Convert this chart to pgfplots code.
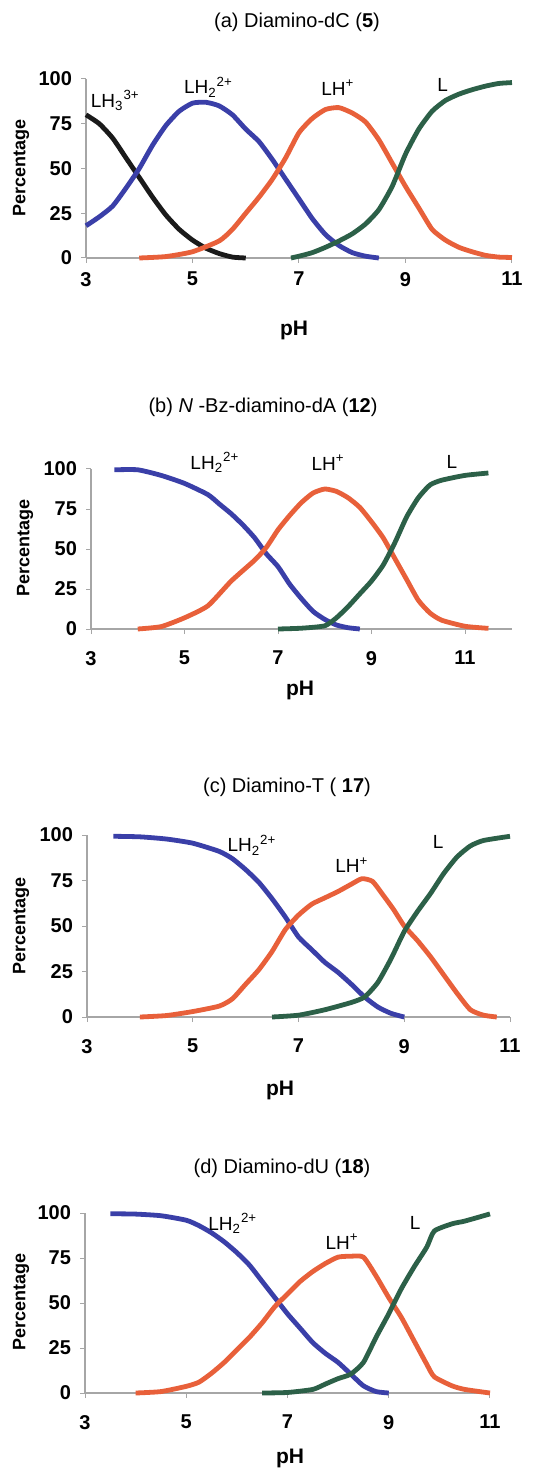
\documentclass[border=0pt]{standalone}
\usepackage{fontspec}
\setmainfont{Liberation Sans}
\usepackage{pgfplots}
\pgfplotsset{compat=1.18}
\definecolor{cblack}{HTML}{1A1A1A}
\definecolor{cblue}{HTML}{3A3FA8}
\definecolor{corange}{HTML}{E8603A}
\definecolor{cgreen}{HTML}{2C6048}

\pgfplotsset{
  specplot/.style={
    scale only axis,
    anchor=south west,
    axis lines*=left,
    axis line style={gray!70, line width=0.6pt},
    ymin=0, ymax=100,
    ytick={0,25,50,75,100},
    xtick={3,5,7,9,11},
    tick align=outside,
    major tick length=2.5pt,
    tick style={gray!70, line width=0.5pt},
    /pgf/number format/assume math mode=true,
    ticklabel style={font=\bfseries\fontsize{10}{12}\selectfont},
    yticklabel style={xshift=-1pt},
    clip=false,
    every axis plot/.append style={line width=2.4pt, line join=round, smooth, tension=0.35},
  },
}
\tikzset{
  lab/.style={font=\fontsize{9.5}{11}\selectfont, anchor=center},
  ttl/.style={font=\fontsize{10}{12}\selectfont},
  ylab/.style={rotate=90, font=\bfseries\fontsize{9}{11}\selectfont},
  xlab/.style={font=\bfseries\fontsize{10.5}{12}\selectfont},
}

\begin{document}
\begin{tikzpicture}
\path[use as bounding box] (0,0) rectangle (278.5pt,-735pt);

% ---- (a) Diamino-dC (5)
\node[ttl] at (148.5pt,-11pt) {(a) Diamino-dC (\textbf{5})};
\begin{axis}[specplot, at={(43pt,-129pt)}, width=213pt, height=89.5pt,
  xmin=3, xmax=11, xticklabel style={yshift=-1pt}]
\addplot[cblack] coordinates {(3,80) (3.25,75) (3.5,67) (3.75,56) (4,45) (4.25,34) (4.5,24) (4.75,16) (5,10) (5.25,5.5) (5.5,2.5) (5.75,0.5) (6,0)};
\addplot[cblue] coordinates {(3,18) (3.25,23) (3.5,29) (3.75,39) (4,50) (4.25,63) (4.5,74) (4.75,82) (5,86.5) (5.25,87) (5.5,85) (5.75,80) (6,72) (6.25,65) (6.5,55) (6.75,44) (7,33) (7.25,22) (7.5,13) (7.75,7) (8,3) (8.25,1) (8.5,0)};
\addplot[corange] coordinates {(4,0) (4.5,0.8) (5,3.5) (5.5,9.5) (5.75,16) (6,25) (6.25,34) (6.5,44) (6.75,56) (7,70) (7.25,78) (7.5,83) (7.75,84) (8,81) (8.25,76) (8.5,66) (8.75,53) (9,40) (9.25,28) (9.5,16) (9.75,10) (10,6) (10.25,3.5) (10.5,1.5) (10.75,0.5) (11,0.3)};
\addplot[cgreen] coordinates {(6.85,0) (7,1) (7.25,3) (7.5,6) (7.75,9.5) (8,13.5) (8.25,19) (8.5,27) (8.75,40) (9,58) (9.25,72) (9.5,82) (9.75,88) (10,91.5) (10.25,94) (10.5,96) (10.75,97.5) (11,98)};
\node[lab] at (axis cs:3.55,88) {LH\textsubscript{3}\textsuperscript{3+}};
\node[lab] at (axis cs:5.3,95.5) {LH\textsubscript{2}\textsuperscript{2+}};
\node[lab] at (axis cs:7.73,95) {LH\textsuperscript{+}};
\node[lab] at (axis cs:9.7,96.6) {L};
\end{axis}
\node[ylab] at (10.5pt,-84pt) {Percentage};
\node[xlab] at (147pt,-165pt) {pH};

% ---- (b) N-Bz-diamino-dA (12)
\node[ttl] at (131.5pt,-203.5pt) {(b) \textit{N} -Bz-diamino-dA (\textbf{12})};
\begin{axis}[specplot, at={(45.5pt,-314.5pt)}, width=210.4pt, height=80pt,
  xmin=3, xmax=12, xticklabel style={yshift=-5pt}]
\addplot[cblue] coordinates {(3.5,99.5) (4,99.5) (4.5,96) (5,91) (5.5,84) (5.75,78) (6,72) (6.25,65) (6.5,57) (6.75,47) (7,39) (7.25,28) (7.5,19) (7.75,11) (8,6) (8.25,2.5) (8.5,0.8) (8.75,0)};
\addplot[corange] coordinates {(4,0) (4.5,1.5) (5,7) (5.5,14.5) (6,30) (6.5,43) (6.75,51) (7,62) (7.25,71) (7.5,79) (7.75,85) (8,87.5) (8.25,86) (8.5,82) (8.75,76) (9,67) (9.25,57) (9.5,44) (9.75,31) (10,18) (10.25,10) (10.5,5.5) (11,1.7) (11.5,0.4)};
\addplot[cgreen] coordinates {(7,0) (7.5,0.5) (8,2) (8.25,7) (8.5,14) (8.75,22) (9,30) (9.25,40) (9.5,54) (9.75,70) (10,82) (10.25,90) (10.5,93) (11,96) (11.5,97.5)};
\node[lab] at (axis cs:5.65,104) {LH\textsubscript{2}\textsuperscript{2+}};
\node[lab] at (axis cs:8.07,104) {LH\textsuperscript{+}};
\node[lab] at (axis cs:10.72,104.4) {L};
\end{axis}
\node[ylab] at (12.5pt,-274pt) {Percentage};
\node[xlab] at (150pt,-345pt) {pH};

% ---- (c) Diamino-T (17)
\node[ttl] at (143.5pt,-393.5pt) {(c) Diamino-T ( \textbf{17})};
\begin{axis}[specplot, at={(43.5pt,-508.5pt)}, width=211.5pt, height=91pt,
  xmin=3, xmax=11, xticklabel style={yshift=-5pt}]
\addplot[cblue] coordinates {(3.5,99.3) (4,99) (4.5,97.8) (5,95.5) (5.5,91) (5.75,87) (6,81) (6.25,74) (6.5,65) (6.75,55) (7,44) (7.25,37) (7.5,30) (7.75,24.5) (8,18) (8.25,11) (8.5,5.5) (8.75,2) (9,0)};
\addplot[corange] coordinates {(4,0) (4.5,0.8) (5,3) (5.5,6) (5.75,10) (6,18) (6.25,26) (6.5,36) (6.75,48) (7,56) (7.25,62) (7.5,65.5) (7.75,69) (8,73) (8.2,76) (8.4,74.5) (8.6,67) (8.8,59) (9,50) (9.25,42) (9.5,33) (9.75,23) (10,13) (10.25,4) (10.5,1) (10.75,0)};
\addplot[cgreen] coordinates {(6.5,0) (7,1) (7.5,4) (8,8) (8.25,11) (8.5,19) (8.75,32) (9,47) (9.25,58) (9.5,68) (9.75,79) (10,88) (10.25,94) (10.5,97) (11,99.3)};
\node[lab] at (axis cs:6.12,94.5) {LH\textsubscript{2}\textsuperscript{2+}};
\node[lab] at (axis cs:8.01,83.5) {LH\textsuperscript{+}};
\node[lab] at (axis cs:9.64,96) {L};
\end{axis}
\node[ylab] at (10.5pt,-463pt) {Percentage};
\node[xlab] at (140pt,-545pt) {pH};

% ---- (d) Diamino-dU (18)
\node[ttl] at (141pt,-584pt) {(d) Diamino-dU (\textbf{18})};
\begin{axis}[specplot, at={(42.5pt,-696.5pt)}, width=202.5pt, height=90pt,
  xmin=3, xmax=11, xticklabel style={yshift=-5pt}]
\addplot[cblue] coordinates {(3.5,99.6) (4,99.4) (4.5,98.5) (5,96) (5.25,93) (5.5,89) (5.75,84) (6,78) (6.25,71) (6.5,62) (6.75,53) (7,44) (7.25,36) (7.5,28) (7.75,22) (8,17) (8.25,10.5) (8.5,4) (8.75,0.8) (9,0)};
\addplot[corange] coordinates {(4,0) (4.5,0.8) (5,3.7) (5.25,6) (5.5,11) (5.75,17) (6,24) (6.25,31) (6.5,39) (6.75,48) (7,55) (7.25,62) (7.5,67.5) (7.75,72) (8,75.5) (8.25,76) (8.5,75.5) (8.75,65) (9,53) (9.25,42) (9.5,29) (9.75,16) (9.9,9) (10.25,4) (10.5,2) (11,0)};
\addplot[cgreen] coordinates {(6.5,0) (7,0.3) (7.5,2) (7.75,5) (8,8) (8.25,10.5) (8.5,17) (8.75,31) (9,44) (9.25,58) (9.5,70) (9.75,81) (9.9,90) (10.25,94) (10.5,95.5) (11,99.5)};
\node[lab] at (axis cs:5.92,94.4) {LH\textsubscript{2}\textsuperscript{2+}};
\node[lab] at (axis cs:8.08,84) {LH\textsuperscript{+}};
\node[lab] at (axis cs:9.52,94.4) {L};
\end{axis}
\node[ylab] at (10.5pt,-651pt) {Percentage};
\node[xlab] at (145pt,-729pt) {pH};
\end{tikzpicture}
\end{document}
